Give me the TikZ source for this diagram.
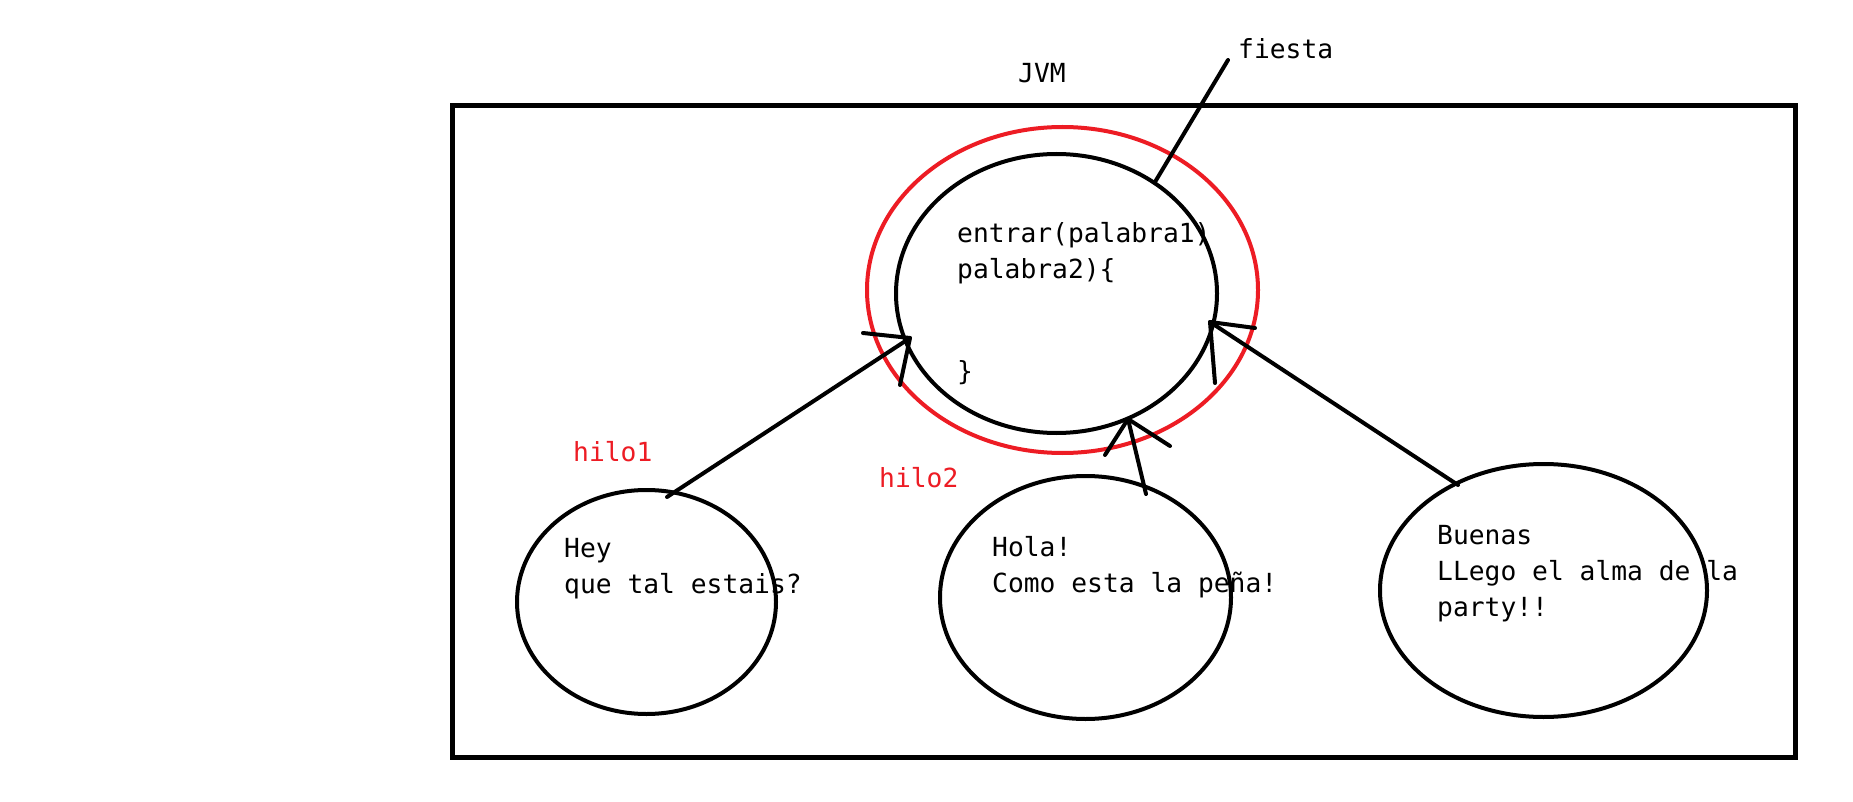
\documentclass[tikz,border=0pt]{standalone}
\usepackage{fontspec}
\setmonofont{DejaVu Sans Mono}
\usetikzlibrary{shapes.geometric}
\definecolor{paintred}{RGB}{237,28,36}
\begin{document}
\begin{tikzpicture}[x=1pt,y=-1pt,
  txt/.style={anchor=base west, inner sep=0pt, font=\ttfamily\fontsize{26.3}{36}\selectfont},
  bubble/.style={draw, ellipse, line width=4pt, inner sep=0pt},
  stroke/.style={line width=4pt, line cap=round, line join=round}]
\useasboundingbox[fill=white] (0,0) rectangle (1853,802);

% JVM frame
\node[draw, line width=5pt, rectangle, inner sep=0pt, minimum width=1343pt, minimum height=651pt] (jvmbox) at (1123.5,431.5) {};
\node[txt] (jvm) at (1018,83) {JVM};

% texts
\node[txt] (code) at (957,243) {\vtop{\hbox{entrar(palabra1)}\hbox{palabra2)\{}}};
\node[txt] (brace) at (957,381) {\}};
\node[txt] (t1) at (564,557) {\vtop{\hbox{Hey}\hbox{que tal estais?}}};
\node[txt] (t2) at (992,556) {\vtop{\hbox{Hola!}\hbox{Como esta la peña!}}};
\node[txt] (t3) at (1437,544) {\vtop{\hbox{Buenas}\hbox{LLego el alma de la}\hbox{party!!}}};
\node[txt, text=paintred] (hilo1) at (573,461) {hilo1};
\node[txt, text=paintred] (hilo2) at (879,487) {hilo2};
\node[txt] (fiesta) at (1238,59) {fiesta};

% method ellipses
\node[bubble, minimum width=321pt, minimum height=279pt] (metodo) at (1056.5,293.5) {};
\node[bubble, draw=paintred, minimum width=391pt, minimum height=326pt] (lock) at (1062.5,290) {};

% thread ellipses
\node[bubble, minimum width=259pt, minimum height=224pt] (e1) at (646.5,602) {};
\node[bubble, minimum width=291pt, minimum height=243pt] (e2) at (1085.5,597.5) {};
\node[bubble, minimum width=327pt, minimum height=253pt] (e3) at (1543.5,590.5) {};

% fiesta pointer
\coordinate (fa) at (1228,60);
\coordinate (fb) at (1155,182);
\draw[stroke] (fa) -- (fb);

% arrow hilo1
\coordinate (h1s) at (667,497); \coordinate (h1t) at (910,338);
\coordinate (h1a) at (863,333); \coordinate (h1b) at (900,385);
\draw[stroke] (h1s) -- (h1t);
\draw[stroke] (h1a) -- (h1t) -- (h1b);

% arrow hilo2
\coordinate (h2s) at (1146,494); \coordinate (h2t) at (1128,419);
\coordinate (h2a) at (1105,455); \coordinate (h2b) at (1170,446);
\draw[stroke] (h2s) -- (h2t);
\draw[stroke] (h2a) -- (h2t) -- (h2b);

% arrow hilo3
\coordinate (h3s) at (1458,485); \coordinate (h3t) at (1210,322);
\coordinate (h3a) at (1255,328); \coordinate (h3b) at (1215,383);
\draw[stroke] (h3s) -- (h3t);
\draw[stroke] (h3a) -- (h3t) -- (h3b);
\end{tikzpicture}
\end{document}
